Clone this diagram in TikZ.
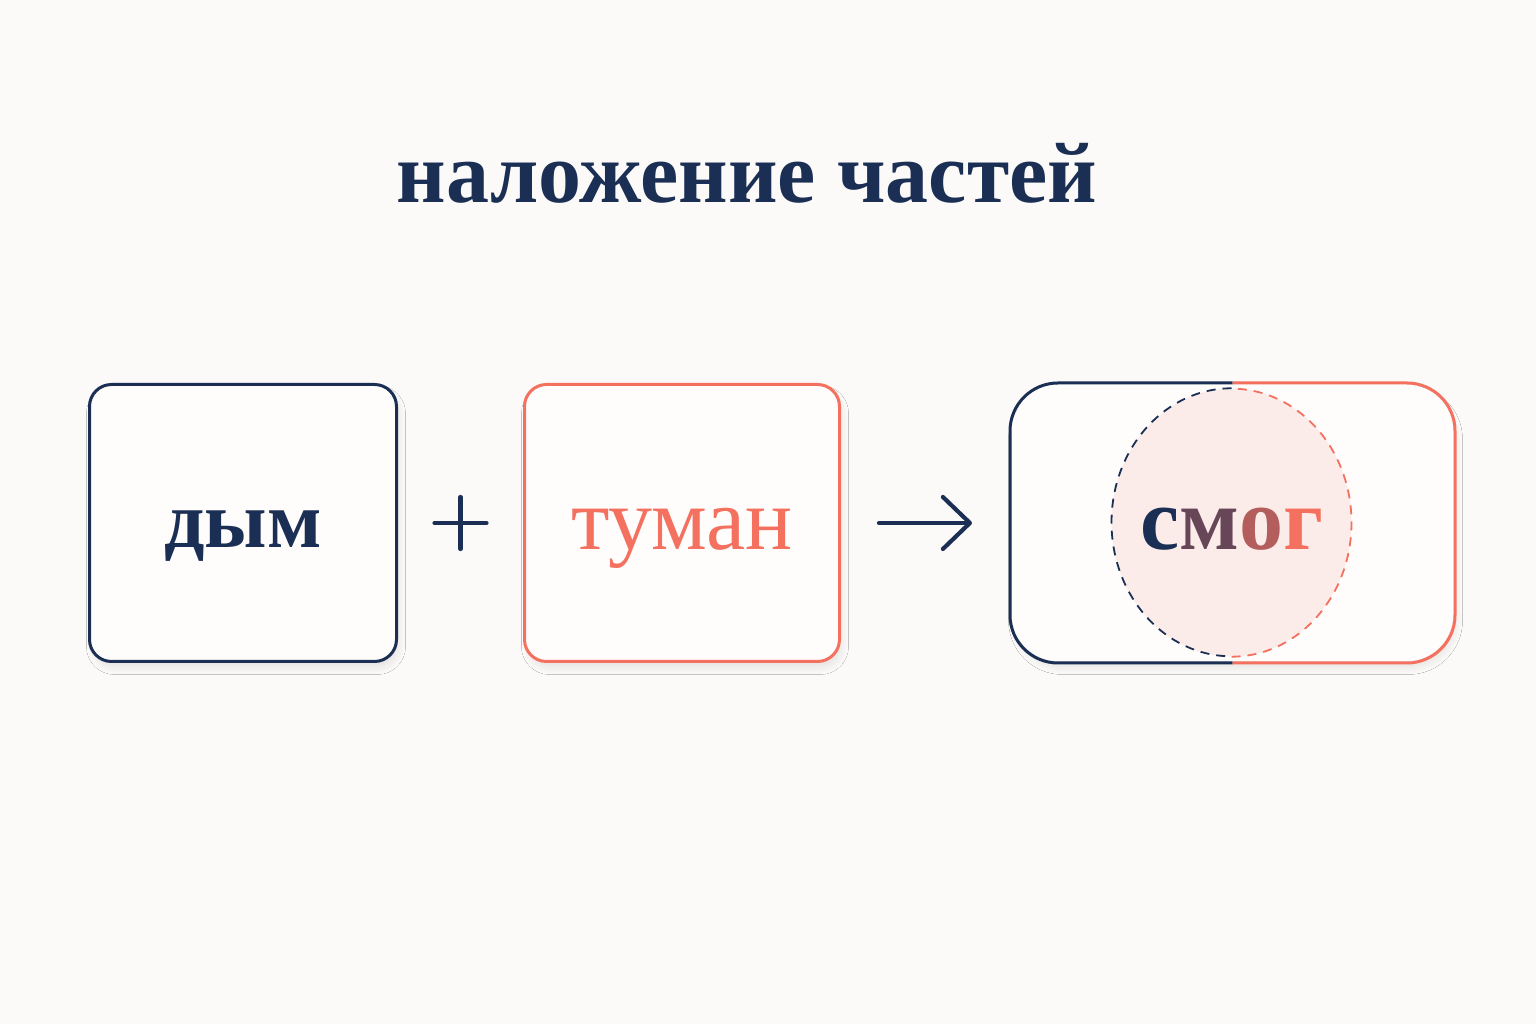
\documentclass[tikz,border=0pt]{standalone}
\usepackage{fontspec}
\setmainfont{Liberation Serif}
\usetikzlibrary{positioning,calc,shapes.geometric,shadows.blur,arrows.meta}
\definecolor{smokenavy}{HTML}{1B2F55}
\definecolor{fogcoral}{HTML}{F4705F}
\definecolor{paper}{HTML}{FCFAF8}
\definecolor{mistpink}{HTML}{FBEAE6}

\begin{document}
\begin{tikzpicture}[x=1pt, y=1pt,
    card/.style={rounded corners=22pt, line width=3pt, fill=white!60!paper,
        minimum height=277pt, inner sep=0pt,
        blur shadow={shadow xshift=3pt, shadow yshift=-7pt, shadow blur radius=6pt, shadow blur steps=12, shadow opacity=8}},
    word/.style={anchor=base, inner sep=0pt, font=\fontsize{#1}{#1}\selectfont},
    bold word/.style={anchor=base, inner sep=0pt, font=\bfseries\fontsize{#1}{#1}\selectfont},
    sign/.style={smokenavy, line width=4.2pt, line cap=round}]
    \fill [paper] (0,0) rectangle (1536,1024);
    \useasboundingbox (0,0) rectangle (1536,1024);

    \node [bold word=86, text=smokenavy] (title) at (747,821) {наложение частей};

    \node [card, draw=smokenavy, minimum width=307pt] (dym)   at (243,501) {};
    \node [card, draw=fogcoral,  minimum width=315pt] (tuman) at (682,501) {};
    \node [card, rounded corners=48pt, minimum width=442pt] (smog) at (1232.5,501) {};

    \node [bold word=80, text=smokenavy] (dymlabel) at ([yshift=-25pt]dym.center) {дым};
    \node [word=88, text=fogcoral] (tumanlabel) at ([yshift=-27pt]tuman.center) {туман};

    % plus between the first two cards
    \coordinate (plus) at ($(dym.east)!0.5!(tuman.west)$);
    \draw [sign] ([xshift=-26pt]plus) -- ([xshift=26pt]plus);
    \draw [sign] ([yshift=-26pt]plus) -- ([yshift=26pt]plus);

    \draw [sign, -{Straight Barb[length=27pt, width=52pt, line cap=round, line join=round]}]
        ([xshift=38pt]tuman.east) -- ([xshift=-38pt]smog.west);

    % the two halves of the smog card
    \draw [smokenavy, line width=3pt, rounded corners=48pt]
        (smog.north) -- (smog.north west) -- (smog.south west) -- (smog.south);
    \draw [fogcoral, line width=3pt, rounded corners=48pt]
        (smog.north) -- (smog.north east) -- (smog.south east) -- (smog.south);

    \node [ellipse, fill=mistpink, fill opacity=0.85, inner sep=0pt,
        minimum width=240pt, minimum height=268pt] (mist) at (1231.5,501.5) {};
    \draw [smokenavy, line width=1.8pt, dash pattern=on 9pt off 7pt]
        (mist.north) arc[start angle=90, end angle=270, x radius=120, y radius=134];
    \draw [fogcoral, line width=1.8pt, dash pattern=on 9pt off 7pt]
        (mist.south) arc[start angle=-90, end angle=90, x radius=120, y radius=134];

    \node [bold word=88] (smoglabel) at ([yshift=-27pt]mist.center)
        {\textcolor{smokenavy}{с}\textcolor{fogcoral!35!smokenavy}{м}\textcolor{fogcoral!70!smokenavy}{о}\textcolor{fogcoral}{г}};
\end{tikzpicture}
\end{document}
